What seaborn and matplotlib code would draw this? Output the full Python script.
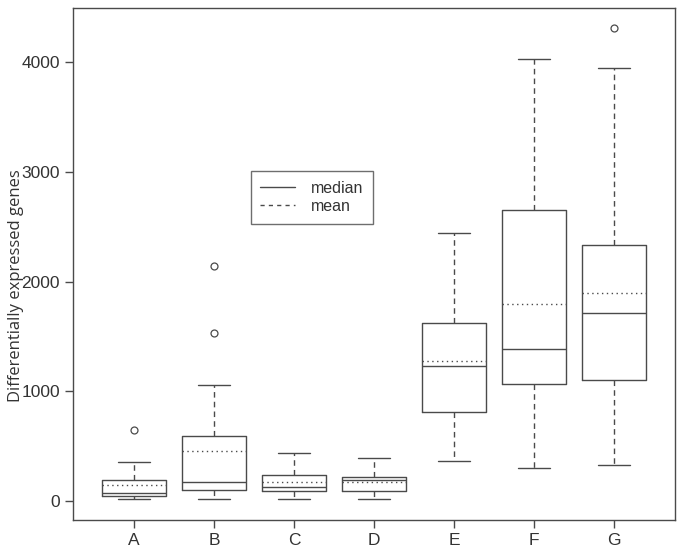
import matplotlib
matplotlib.use("Agg")
import matplotlib.pyplot as plt
import seaborn as sns
from matplotlib.lines import Line2D

categories = ["A", "B", "C", "D", "E", "F", "G"]
whis_low = [18, 15, 15, 18, 367, 304, 325]
q1 = [46, 100, 94, 88, 811, 1063, 1100]
median = [73, 173, 125, 194, 1230, 1382, 1710]
q3 = [191, 592, 240, 219, 1625, 2654, 2333]
whis_high = [355, 1054, 440, 395, 2442, 4030, 3945]
means = [146, 456, 173, 173, 1276, 1792, 1898]
outliers = [[647], [1531, 2141], [], [], [], [], [4313]]
yticks = [0, 1000, 2000, 3000, 4000]

sns.set_theme(style="ticks")
plt.rcParams["font.family"] = ["Liberation Sans", "DejaVu Sans"]

col = "#4a4a4a"
fig = plt.figure(figsize=(6.85, 5.51), dpi=100)
ax = fig.add_axes([73/685, 31/551, 602/685, 512/551])

stats = []
for i, c in enumerate(categories):
    stats.append(dict(label=c, whislo=whis_low[i], q1=q1[i], med=median[i],
                      q3=q3[i], whishi=whis_high[i], mean=means[i],
                      fliers=outliers[i]))

lw = 1.0
ax.bxp(stats, positions=list(range(len(categories))), widths=0.8,
       showmeans=True, meanline=True, showfliers=True, patch_artist=False,
       boxprops=dict(color=col, linewidth=lw),
       medianprops=dict(color=col, linewidth=lw),
       meanprops=dict(color=col, linewidth=lw, linestyle=(0, (1, 2.5))),
       whiskerprops=dict(color=col, linewidth=lw, linestyle=(0, (4, 3))),
       capprops=dict(color=col, linewidth=lw),
       flierprops=dict(marker="o", markerfacecolor="none", markeredgecolor=col,
                       markersize=5, markeredgewidth=0.9),
       capwidths=0.4)

ax.set_xlim(-0.76, 6.76)
ax.set_ylim(-173, 4492)
ax.set_yticks(yticks)
ax.set_yticklabels([str(t) for t in yticks])
ax.set_xticks(range(len(categories)))
ax.set_xticklabels(categories)
ax.set_ylabel("Differentially expressed genes", fontsize=12, color="#333333",
              family=["Open Sans", "DejaVu Sans"])
ax.yaxis.set_label_coords((24 - 73) / 602, (520 - 286) / 512)
ax.tick_params(axis="both", labelsize=12.5, colors=col, labelcolor="#333333",
               length=6, width=1.0, direction="out")
for s in ax.spines.values():
    s.set_color(col)
    s.set_linewidth(1.0)
    s.set_visible(True)

handles = [Line2D([], [], color=col, linewidth=1.0, linestyle="-"),
           Line2D([], [], color=col, linewidth=1.0, linestyle=(0, (3, 3)))]
leg = ax.legend(handles, ["median", "mean"], loc="center", bbox_to_anchor=(0.397, 0.63),
                frameon=True, fancybox=False, fontsize=11.5, handlelength=2.2,
                borderpad=0.6, labelspacing=0.2, handletextpad=1.0)
leg.get_frame().set_edgecolor(col)
leg.get_frame().set_linewidth(1.0)
for t in leg.get_texts():
    t.set_color("#333333")

fig.savefig("out.png", dpi=100)
